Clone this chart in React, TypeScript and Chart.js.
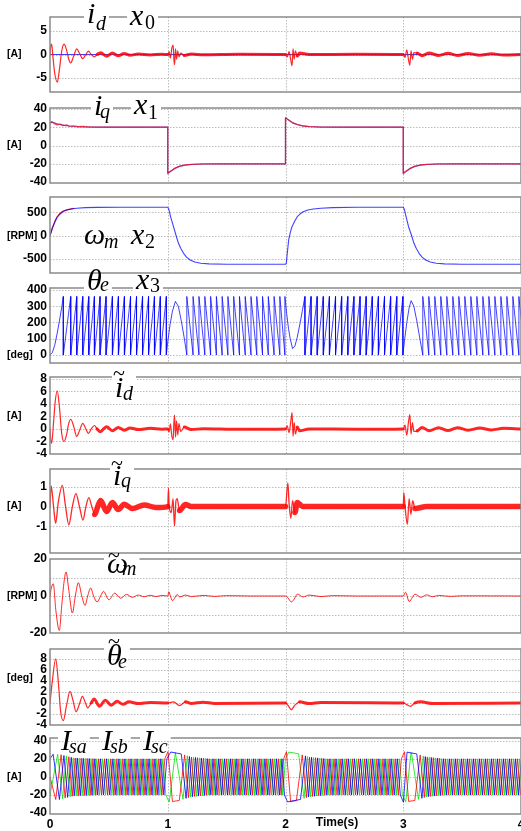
import React, { useEffect, useRef } from "react";
import { Chart, registerables } from "chart.js";

Chart.register(...registerables);

type P = [number, number];

const W = 521;
const H = 831;

// ---------------- data ----------------
const timeTicks = [0, 1, 2, 3, 4];

// panel 1 : i_d (blue reference, red measured)
const idRef: P[] = [[0, 0], [4, 0]];
const idEst: P[] = [[0,0],[0.006,1.6],[0.014,2.2],[0.025,-0.5],[0.04,-4],[0.062,-5.9],[0.08,-3.2],[0.1,0.8],[0.119,2.2],[0.14,1.0],[0.158,-0.9],[0.176,-1.8],[0.2,-0.4],[0.227,1.2],[0.25,0.3],[0.278,-0.9],[0.3,-0.2],[0.326,0.7],[0.35,0],[0.377,-0.5],[0.4,0],[0.43,0.4],[0.455,0],[0.48,-0.35],[0.53,0.3],[0.58,-0.25],[0.63,0.2],[0.68,-0.15],[0.75,0.1],[0.85,-0.1],[0.95,0.05],[1.0,0],[1.012,0.6],[1.022,-0.8],[1.035,1.4],[1.046,2.0],[1.052,-1.0],[1.058,-2.2],[1.066,1.2],[1.075,-1.0],[1.085,0.8],[1.095,-0.5],[1.11,0.3],[1.14,-0.2],[1.2,0.1],[1.3,-0.05],[1.6,0.05],[2.0,0],[2.015,-0.5],[2.03,0.6],[2.045,-1.2],[2.056,-2.4],[2.064,1.2],[2.074,-1.0],[2.084,0.8],[2.1,-0.3],[2.12,0.3],[2.2,0],[2.6,0.05],[3.0,0],[3.015,-0.6],[3.03,1.0],[3.045,-1.2],[3.056,-2.3],[3.066,0.8],[3.078,-1.0],[3.09,0.4],[3.12,0.3],[3.16,-0.25],[3.22,0.3],[3.3,-0.2],[3.38,0.25],[3.46,-0.2],[3.55,0.2],[3.65,-0.15],[3.75,0.15],[3.85,-0.1],[4,0]];

// panel 2 : i_q
const iqRef: P[] = [[0,25],[0.02,25.5],[0.05,24.2],[0.08,23],[0.12,22],[0.16,21.3],[0.2,20.8],[0.3,20.2],[0.45,20],[1.0,20],[1.0,-31],[1.03,-27.5],[1.06,-25],[1.1,-22.8],[1.15,-21.5],[1.2,-20.8],[1.3,-20.2],[1.45,-20],[2.0,-20],[2.0,30.5],[2.03,27.5],[2.06,25],[2.1,23],[2.15,21.5],[2.2,20.8],[2.3,20.2],[2.45,20],[3.0,20],[3.0,-31],[3.03,-27.5],[3.06,-25],[3.1,-22.8],[3.15,-21.5],[3.2,-20.8],[3.3,-20.2],[3.45,-20],[4,-20]];
const iqEst: P[] = [[0,24],[0.015,26],[0.035,24],[0.06,22.5],[0.085,23.5],[0.11,21.8],[0.14,22.6],[0.17,21],[0.2,21.5],[0.24,20.5],[0.28,20.8],[0.35,20.1],[0.5,20],[1.0,20],[1.0,-30],[1.03,-27.8],[1.06,-25],[1.1,-22.6],[1.15,-21.2],[1.2,-20.6],[1.3,-20.1],[1.5,-20],[2.0,-20],[2.0,30],[2.03,27.6],[2.06,24.8],[2.1,22.8],[2.15,21.3],[2.2,20.6],[2.3,20.1],[2.5,20],[3.0,20],[3.0,-30],[3.03,-27.8],[3.06,-25],[3.1,-22.6],[3.15,-21.2],[3.2,-20.6],[3.3,-20.1],[3.5,-20],[4,-20]];

// panel 3 : speed [RPM]
const speedRef: P[] = [[0,0],[0.01,80],[0.02,160],[0.043,300],[0.06,390],[0.085,466],[0.11,518],[0.142,551],[0.18,574],[0.227,590],[0.3,602],[0.4,608],[0.6,610],[1.0,610],[1.01,560],[1.025,400],[1.049,193],[1.07,10],[1.091,-163],[1.11,-270],[1.134,-378],[1.16,-460],[1.19,-521],[1.23,-565],[1.28,-592],[1.35,-605],[1.5,-612],[2.0,-612],[2.007,-592],[2.015,-380],[2.027,-92],[2.04,60],[2.055,193],[2.08,320],[2.1,408],[2.125,470],[2.15,515],[2.19,550],[2.236,573],[2.3,590],[2.4,603],[2.6,610],[3.0,610],[3.01,560],[3.025,400],[3.045,193],[3.07,10],[3.091,-163],[3.11,-270],[3.134,-378],[3.16,-460],[3.19,-521],[3.23,-565],[3.28,-592],[3.35,-605],[3.5,-612],[4,-612]];
const speedEst: P[] = [[0,0],[0.02,170],[0.043,318],[0.06,405],[0.085,476],[0.11,524],[0.142,553],[0.2,585]];

// panel 4 : theta_e [deg] (sawtooth corners)
const thetaStartCurve: P[] = [[0,0],[0.02,15],[0.04,60],[0.06,130],[0.08,210],[0.1,295],[0.113,360]];
const thetaRun1Drops = [0.113,0.176,0.227,0.278,0.329,0.377,0.425,0.476,0.53,0.581,0.632,0.684,0.735,0.786,0.837,0.887,0.937,0.988];
const thetaHump1: P[] = [[0.988,0],[1.0,80],[1.02,190],[1.04,270],[1.065,330],[1.09,300],[1.115,210],[1.14,105],[1.162,0]];
const thetaRun2Jumps = [1.162,1.215,1.265,1.315,1.364,1.413,1.462,1.511,1.56,1.609,1.658,1.707,1.756,1.805,1.854,1.903,1.952,1.995];
const thetaHump2: P[] = [[1.995,360],[2.01,255],[2.025,165],[2.04,100],[2.06,40],[2.08,55],[2.1,110],[2.125,200],[2.145,280],[2.165,360]];
const thetaRun3Drops = [2.165,2.217,2.269,2.321,2.373,2.425,2.477,2.529,2.581,2.633,2.685,2.737,2.789,2.841,2.893,2.945,2.997];
const thetaHump3: P[] = [[2.997,0],[3.01,85],[3.03,200],[3.05,290],[3.067,334],[3.09,300],[3.115,210],[3.14,105],[3.166,0]];
const thetaRun4Jumps = [3.166,3.217,3.268,3.319,3.37,3.421,3.472,3.523,3.574,3.625,3.676,3.727,3.778,3.829,3.88,3.931,3.982,4.033];

// panel 5 : i_d error
const idErr: P[] = [[0,0],[0.006,-1.6],[0.014,-2.3],[0.03,1.0],[0.045,4.5],[0.062,6.1],[0.08,3.5],[0.1,-0.8],[0.119,-2.0],[0.14,-1.0],[0.158,0.8],[0.176,1.55],[0.2,0.5],[0.227,-1.2],[0.25,-0.3],[0.278,0.9],[0.3,0.2],[0.326,-0.7],[0.35,0],[0.377,0.55],[0.4,0],[0.43,-0.45],[0.455,0],[0.48,0.35],[0.53,-0.3],[0.58,0.25],[0.63,-0.2],[0.68,0.15],[0.75,-0.1],[0.85,0.1],[0.95,-0.05],[1.0,0],[1.012,-0.5],[1.022,0.8],[1.035,-1.2],[1.046,-1.7],[1.052,1.0],[1.058,2.2],[1.066,-1.3],[1.075,1.3],[1.085,-1.0],[1.095,0.9],[1.11,-0.4],[1.14,0.3],[1.2,-0.1],[1.3,0.05],[1.6,-0.05],[2.0,0],[2.015,0.5],[2.03,-0.6],[2.045,1.2],[2.056,2.6],[2.064,-1.2],[2.074,1.0],[2.084,-0.8],[2.1,0.3],[2.12,-0.3],[2.2,0],[2.6,-0.05],[3.0,0],[3.015,0.6],[3.03,-1.0],[3.045,1.2],[3.056,2.3],[3.066,-0.8],[3.078,1.0],[3.09,-0.4],[3.12,-0.3],[3.16,0.25],[3.22,-0.3],[3.3,0.2],[3.38,-0.25],[3.46,0.2],[3.55,-0.2],[3.65,0.15],[3.75,-0.15],[3.85,0.1],[4,0]];

// panel 6 : i_q error
const iqErr: P[] = [[0,0],[0.01,1.05],[0.03,0],[0.048,-0.85],[0.07,0.2],[0.105,1.07],[0.13,0.1],[0.16,-0.93],[0.19,0],[0.22,0.65],[0.25,0],[0.28,-0.68],[0.305,0],[0.33,0.45],[0.355,0],[0.38,-0.4],[0.405,0],[0.43,0.3],[0.48,-0.25],[0.53,0.2],[0.58,-0.15],[0.63,0.12],[0.7,-0.1],[0.8,0.08],[0.9,-0.05],[1.0,0],[1.006,0.93],[1.012,0],[1.03,-0.3],[1.045,0.4],[1.057,-0.98],[1.07,0.3],[1.08,0.4],[1.1,-0.2],[1.15,0.1],[1.2,0],[2.0,0],[2.02,1.2],[2.03,0.2],[2.045,-0.6],[2.06,0.3],[2.08,-0.3],[2.1,0.2],[2.15,0],[3.0,0],[3.005,0.7],[3.015,0],[3.035,-0.9],[3.05,0.4],[3.065,-0.4],[3.08,0.3],[3.1,-0.1],[3.2,0],[4,0]];

// panel 7 : speed error [RPM]
const speedErr: P[] = [[0,0],[0.01,4],[0.028,6.6],[0.05,-8],[0.079,-18.6],[0.1,-5],[0.12,8],[0.136,13],[0.16,3],[0.19,-9.2],[0.215,0],[0.241,7.2],[0.27,0],[0.298,-5.1],[0.32,0],[0.346,4.3],[0.37,0],[0.4,-3.2],[0.43,0],[0.454,2.5],[0.5,-2],[0.55,1.5],[0.6,-1.2],[0.65,0.9],[0.7,-0.7],[0.75,0.5],[0.8,-0.4],[0.85,0.4],[0.9,-0.3],[0.95,0.3],[1.0,0],[1.01,2.3],[1.02,0.5],[1.04,-2.5],[1.06,-1],[1.08,0.8],[1.1,-0.5],[1.15,0.5],[1.2,-0.3],[1.3,0.3],[1.4,-0.2],[1.5,0.2],[1.7,0],[2.0,0],[2.02,-1],[2.05,-3.2],[2.08,-1],[2.1,1],[2.15,-0.5],[2.2,0.5],[2.3,-0.3],[2.4,0.2],[2.6,0],[3.0,0],[3.02,2],[3.05,-3],[3.08,-0.5],[3.1,1],[3.15,-0.7],[3.2,0.6],[3.25,-0.4],[3.3,0.3],[3.4,-0.2],[3.5,0.1],[4,0]];

// panel 8 : theta error [deg]
const thetaErr: P[] = [[0,0],[0.02,4],[0.048,8.0],[0.07,4],[0.09,-1.5],[0.113,-3.2],[0.14,-0.5],[0.17,2.1],[0.195,0.5],[0.221,-1.6],[0.25,-0.2],[0.275,1.2],[0.3,0.1],[0.32,-0.9],[0.35,0],[0.374,0.7],[0.42,-0.6],[0.47,0.5],[0.52,-0.4],[0.57,0.3],[0.62,-0.25],[0.67,0.2],[0.75,-0.1],[0.85,0.1],[1.0,0],[1.05,0.2],[1.1,-0.5],[1.15,0.2],[1.2,-0.1],[1.3,0.15],[1.4,-0.1],[2.0,0],[2.02,-0.4],[2.05,-1.2],[2.08,-0.4],[2.12,0.2],[2.2,-0.1],[2.3,0.1],[3.0,0],[3.03,-0.3],[3.06,-0.6],[3.1,0],[3.15,0.2],[3.25,-0.1],[4,0]];

// panel 9 : phase currents, peak envelope (signed like i_q) and start values
const phaseAmp: P[] = [[0,25],[0.08,25],[0.2,21],[0.4,20],[1.0,20],[1.0,-28],[1.1,-26],[1.2,-22],[1.35,-20],[2.0,-20],[2.0,28],[2.1,26],[2.2,22],[2.35,20],[3.0,20],[3.0,-28],[3.1,-26],[3.2,-22],[3.35,-20],[4.1,-20]];
const phaseStartRed = 0;
const phaseStartBlue = 20;
const phaseStartGreen = -20;
// electrical angle (deg) where each phase peaks (+1) / bottoms (-1)
const peaksRed: P[] = [[270, 1], [90, -1]];
const peaksBlue: P[] = [[30, 1], [210, -1]];
const peaksGreen: P[] = [[150, 1], [330, -1]];

// tick values
const ticksP1 = [-5, 0, 5];
const ticksP2 = [-40, -20, 0, 20, 40];
const ticksP3 = [-500, 0, 500];
const ticksP4 = [0, 100, 200, 300, 400];
const ticksP5 = [-4, -2, 0, 2, 4, 6, 8];
const ticksP6 = [-1, 0, 1];
const ticksP7 = [-20, -10, 0, 10, 20];
const labelsP7 = [-20, 0, 20];
const ticksP8 = [-4, -2, 0, 2, 4, 6, 8];
const ticksP9 = [-40, -20, 0, 20, 40];

// ---------------- derived series ----------------
function sawUp(drops: number[]): P[] {
  const out: P[] = [];
  for (let i = 0; i < drops.length - 1; i++) out.push([drops[i], 0], [drops[i + 1], 360]);
  out.push([drops[drops.length - 1], 0]);
  return out;
}
function sawDown(jumps: number[]): P[] {
  const out: P[] = [];
  for (let i = 0; i < jumps.length - 1; i++) out.push([jumps[i], 360], [jumps[i + 1], 0]);
  out.push([jumps[jumps.length - 1], 360]);
  return out;
}
const thetaPath: P[] = [
  ...thetaStartCurve,
  ...sawUp(thetaRun1Drops),
  ...thetaHump1,
  ...sawDown(thetaRun2Jumps),
  ...thetaHump2,
  ...sawUp(thetaRun3Drops),
  ...thetaHump3,
  ...sawDown(thetaRun4Jumps),
];

function ampAt(t: number): number {
  for (let i = 0; i < phaseAmp.length - 1; i++) {
    const [t0, v0] = phaseAmp[i];
    const [t1, v1] = phaseAmp[i + 1];
    if (t1 > t0 && t >= t0 && t <= t1) return v0 + ((v1 - v0) * (t - t0)) / (t1 - t0);
  }
  return phaseAmp[phaseAmp.length - 1][1];
}

function phaseFromTheta(start: number, peaks: P[]): P[] {
  const out: P[] = [[0, start]];
  for (let k = 0; k < thetaPath.length - 1; k++) {
    const [t0, a0] = thetaPath[k];
    const [t1, a1] = thetaPath[k + 1];
    if (t1 <= t0 || a1 === a0) continue;
    const hits: P[] = [];
    for (const [ang, sign] of peaks) {
      if ((ang - a0) * (ang - a1) < 0 || ang === a1) {
        const t = t0 + ((ang - a0) / (a1 - a0)) * (t1 - t0);
        hits.push([t, sign * ampAt(t)]);
      }
    }
    hits.sort((p, q) => p[0] - q[0]);
    out.push(...hits);
  }
  return out;
}
const phaseRed = phaseFromTheta(phaseStartRed, peaksRed);
const phaseBlue = phaseFromTheta(phaseStartBlue, peaksBlue);
const phaseGreen = phaseFromTheta(phaseStartGreen, peaksGreen);

// ---------------- layout / style ----------------
const SANS = '"Liberation Sans", Arial, Helvetica, sans-serif';
const SERIF = '"Liberation Serif", "Times New Roman", serif';
const RED = "rgba(255,0,0,0.85)";
const BLUE = "rgba(0,0,255,0.75)";

interface Series { data: P[]; color: string; width: number; thick?: number; thin?: P[]; smooth?: boolean }
interface TitleItem { m: string; mx: number; my: number; s: string; sx: number; sy: number; digit?: boolean; tilde?: P }
interface PanelDef {
  top: number; bottom: number; yMin: number; yMax: number;
  ticks: number[]; labels?: number[]; unit: string; unitAt: number;
  series: Series[]; titles: TitleItem[]; box: boolean; showX: boolean;
}

const thinWin: P[] = [[0, 0.4], [1.0, 1.12], [2.0, 2.1], [3.0, 3.1]];

const panels: PanelDef[] = [
  {
    top: 17, bottom: 92, yMin: -8, yMax: 8, ticks: ticksP1, unit: "[A]", unitAt: 0,
    series: [
      { data: idEst, color: RED, width: 1.2, thick: 3, thin: thinWin, smooth: true },
      { data: idRef, color: BLUE, width: 1 },
    ],
    titles: [
      { m: "i", mx: 87, my: 23, s: "d", sx: 96, sy: 30 },
      { m: "x", mx: 130, my: 25, s: "0", sx: 145, sy: 29, digit: true },
    ],
    box: true, showX: false,
  },
  {
    top: 108, bottom: 183, yMin: -41, yMax: 41, ticks: ticksP2, unit: "[A]", unitAt: 0,
    series: [
      { data: iqEst, color: "rgba(255,0,0,0.7)", width: 1.3 },
      { data: iqRef, color: "rgba(0,0,255,0.6)", width: 1.2 },
    ],
    titles: [
      { m: "i", mx: 94, my: 115, s: "q", sx: 100, sy: 118 },
      { m: "x", mx: 134, my: 114, s: "1", sx: 148, sy: 119, digit: true },
    ],
    box: true, showX: false,
  },
  {
    top: 197, bottom: 273, yMin: -800, yMax: 830, ticks: ticksP3, unit: "[RPM]", unitAt: 0,
    series: [
      { data: speedRef, color: BLUE, width: 1.1 },
      { data: speedEst, color: RED, width: 1.2 },
    ],
    titles: [
      { m: "\u03C9", mx: 84, my: 244, s: "m", sx: 104, sy: 248 },
      { m: "x", mx: 131, my: 244, s: "2", sx: 145, sy: 248, digit: true },
    ],
    box: false, showX: false,
  },
  {
    top: 288, bottom: 363, yMin: -49, yMax: 412, ticks: ticksP4, unit: "[deg]", unitAt: 0,
    series: [{ data: thetaPath, color: BLUE, width: 1 }],
    titles: [
      { m: "\u03B8", mx: 87, my: 290, s: "e", sx: 100, sy: 291 },
      { m: "x", mx: 136, my: 289, s: "3", sx: 150, sy: 292, digit: true },
    ],
    box: true, showX: false,
  },
  {
    top: 377, bottom: 454, yMin: -4, yMax: 8.3, ticks: ticksP5, unit: "[A]", unitAt: 2,
    series: [{ data: idErr, color: RED, width: 1.2, thick: 3, thin: thinWin, smooth: true }],
    titles: [{ m: "i", mx: 115, my: 397, s: "d", sx: 123, sy: 400, tilde: [119, 374] }],
    box: true, showX: false,
  },
  {
    top: 469, bottom: 553, yMin: -2.35, yMax: 1.9, ticks: ticksP6, unit: "[A]", unitAt: 0,
    series: [{ data: iqErr, color: RED, width: 1.3, thick: 5.5, thin: [[0, 0.36], [1.0, 1.1], [2.0, 2.08], [3.0, 3.1]], smooth: true }],
    titles: [{ m: "i", mx: 113, my: 485, s: "q", sx: 121, sy: 487, tilde: [117, 464] }],
    box: true, showX: false,
  },
  {
    top: 559, bottom: 633, yMin: -20, yMax: 20, ticks: ticksP7, labels: labelsP7, unit: "[RPM]", unitAt: 0,
    series: [{ data: speedErr, color: RED, width: 1, smooth: true }],
    titles: [{ m: "\u03C9", mx: 107, my: 573, s: "m", sx: 122, sy: 575, tilde: [114, 556] }],
    box: true, showX: false,
  },
  {
    top: 649, bottom: 725, yMin: -4, yMax: 9.8, ticks: ticksP8, unit: "[deg]", unitAt: 4.5,
    series: [{ data: thetaErr, color: RED, width: 1.2, thick: 3, thin: [[0, 0.35], [1.0, 1.15], [2.0, 2.12], [3.0, 3.1]], smooth: true }],
    titles: [{ m: "\u03B8", mx: 107, my: 665, s: "e", sx: 118, sy: 668, tilde: [114, 642] }],
    box: true, showX: false,
  },
  {
    top: 738, bottom: 814, yMin: -41, yMax: 43, ticks: ticksP9, unit: "[A]", unitAt: 0,
    series: [
      { data: phaseBlue, color: "rgba(0,0,255,0.8)", width: 1 },
      { data: phaseRed, color: "rgba(255,0,0,0.8)", width: 1 },
      { data: phaseGreen, color: "rgba(0,230,0,0.8)", width: 1 },
    ],
    titles: [
      { m: "I", mx: 61, my: 750, s: "sa", sx: 69, sy: 753 },
      { m: "I", mx: 102, my: 750, s: "sb", sx: 110, sy: 753 },
      { m: "I", mx: 143, my: 750, s: "sc", sx: 151, sy: 753 },
    ],
    box: true, showX: true,
  },
];

const MAIN_FONT = `italic 30px ${SERIF}`;
const SUB_FONT = `italic 20px ${SERIF}`;
const DIGIT_FONT = `20px ${SERIF}`;
const TICK_FONT = { family: SANS, size: 12, weight: "bold" as const };

function makePlugin(p: PanelDef) {
  return {
    id: "panelDecor",
    beforeDatasetsDraw(chart: any) {
      const { ctx, chartArea: a, scales } = chart;
      ctx.save();
      ctx.strokeStyle = "#bdbdbd";
      ctx.lineWidth = 1;
      ctx.setLineDash([1.5, 1.5]);
      for (const v of p.ticks) {
        const y = Math.round(scales.y.getPixelForValue(v)) + 0.5;
        if (y <= a.top + 1 || y >= a.bottom - 1) continue;
        ctx.beginPath();
        ctx.moveTo(a.left, y);
        ctx.lineTo(a.right, y);
        ctx.stroke();
      }
      for (const v of timeTicks) {
        const x = Math.round(scales.x.getPixelForValue(v)) + 0.5;
        if (x <= a.left + 1 || x >= a.right - 1) continue;
        ctx.beginPath();
        ctx.moveTo(x, a.top);
        ctx.lineTo(x, a.bottom);
        ctx.stroke();
      }
      ctx.restore();
    },
    afterDatasetsDraw(chart: any) {
      const { ctx, chartArea: a, scales } = chart;
      ctx.save();
      // frame
      ctx.strokeStyle = "#8a8a8a";
      ctx.lineWidth = 1.5;
      ctx.strokeRect(a.left, a.top, a.right - a.left, a.bottom - a.top);
      // unit label
      ctx.fillStyle = "#000";
      ctx.font = `bold 10.5px ${SANS}`;
      ctx.textAlign = "left";
      ctx.textBaseline = "middle";
      ctx.fillText(p.unit, 7, scales.y.getPixelForValue(p.unitAt));
      if (p.showX) {
        ctx.font = `bold 12px ${SANS}`;
        ctx.textAlign = "center";
        ctx.fillText("Time(s)", 337, 823);
      }
      // titles
      ctx.textBaseline = "alphabetic";
      ctx.textAlign = "left";
      for (const t of p.titles) {
        ctx.font = t.digit ? DIGIT_FONT : SUB_FONT;
        const sw = ctx.measureText(t.s).width;
        if (p.box) {
          ctx.fillStyle = "#fff";
          ctx.fillRect(t.mx - 3, a.top - 3, t.sx + sw - t.mx + 6, 6);
        }
        ctx.fillStyle = "#000";
        ctx.font = MAIN_FONT;
        ctx.fillText(t.m, t.mx, t.my);
        ctx.font = t.digit ? DIGIT_FONT : SUB_FONT;
        ctx.fillText(t.s, t.sx, t.sy);
        if (t.tilde) {
          ctx.font = `22px ${SERIF}`;
          ctx.textAlign = "center";
          ctx.textBaseline = "middle";
          ctx.fillText("~", t.tilde[0], t.tilde[1]);
          ctx.textAlign = "left";
          ctx.textBaseline = "alphabetic";
        }
      }
      ctx.restore();
    },
  };
}

function makeConfig(p: PanelDef): any {
  const xH = p.showX ? 17 : 0;
  return {
    type: "line",
    data: {
      datasets: p.series.map((s) => ({
        data: s.data.map(([x, y]) => ({ x, y })),
        borderColor: s.color,
        borderWidth: s.width,
        borderJoinStyle: "round",
        borderCapStyle: "round",
        pointRadius: 0,
        tension: 0,
        cubicInterpolationMode: s.smooth ? "monotone" : "default",
        fill: false,
        segment: s.thin
          ? {
              borderWidth: (ctx: any) => {
                const x = ctx.p0.parsed.x;
                return s.thin!.some(([a, b]) => x >= a && x < b) ? s.width : s.thick;
              },
            }
          : undefined,
      })),
    },
    options: {
      responsive: false,
      animation: false,
      devicePixelRatio: 1,
      events: [],
      layout: { padding: { top: p.top, bottom: H - p.bottom - xH, left: 0, right: 0 } },
      plugins: { legend: { display: false }, tooltip: { enabled: false }, title: { display: false } },
      scales: {
        x: {
          type: "linear",
          min: 0,
          max: 4,
          grid: { display: false, drawTicks: false, tickLength: 0 },
          border: { display: false },
          ticks: { display: p.showX, font: TICK_FONT, color: "#000", padding: 3, maxRotation: 0, autoSkip: false },
          afterBuildTicks: (ax: any) => { ax.ticks = timeTicks.map((v) => ({ value: v })); },
          afterFit: (ax: any) => { ax.height = xH; ax.paddingLeft = 0; ax.paddingRight = 0; },
        },
        y: {
          type: "linear",
          min: p.yMin,
          max: p.yMax,
          grid: { display: false, drawTicks: false, tickLength: 0 },
          border: { display: false },
          ticks: {
            font: TICK_FONT,
            color: "#000",
            padding: 3,
            autoSkip: false,
            callback: (v: number) => (!p.labels || p.labels.includes(v) ? String(v) : ""),
          },
          afterBuildTicks: (ax: any) => { ax.ticks = p.ticks.map((v) => ({ value: v })); },
          afterFit: (ax: any) => { ax.width = 50; ax.paddingTop = 0; ax.paddingBottom = 0; },
        },
      },
    },
    plugins: [makePlugin(p)],
  };
}

function Panel({ def }: { def: PanelDef }) {
  const ref = useRef<HTMLCanvasElement>(null);
  useEffect(() => {
    const chart = new Chart(ref.current as HTMLCanvasElement, makeConfig(def));
    return () => chart.destroy();
  }, [def]);
  return (
    <canvas
      ref={ref}
      width={W}
      height={H}
      style={{ position: "absolute", left: 0, top: 0, width: W, height: H }}
    />
  );
}

export default function App() {
  return (
    <div style={{ position: "absolute", left: 0, top: 0, width: W, height: H, background: "#fff", overflow: "hidden" }}>
      {panels.map((p, i) => (
        <Panel key={i} def={p} />
      ))}
    </div>
  );
}
